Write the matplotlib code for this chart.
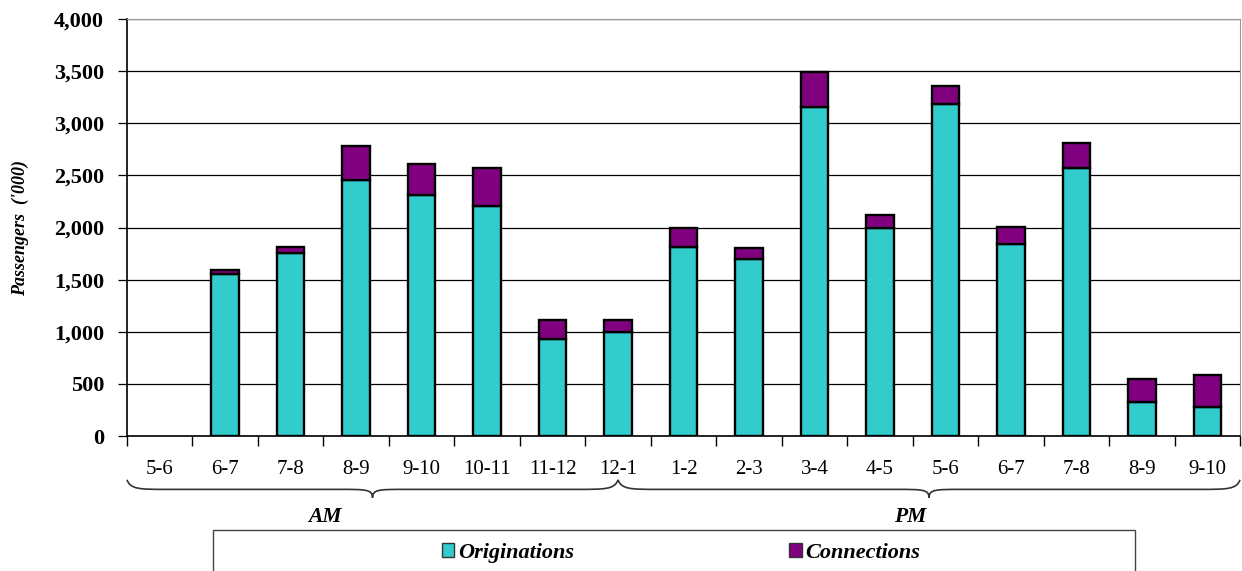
import matplotlib.pyplot as plt
from matplotlib.patches import Patch, Rectangle, PathPatch
from matplotlib.path import Path
from matplotlib.ticker import StrMethodFormatter, MultipleLocator

# hourly passengers ('000)
hours = ['5-6', '6-7', '7-8', '8-9', '9-10', '10-11', '11-12', '12-1',
         '1-2', '2-3', '3-4', '4-5', '5-6', '6-7', '7-8', '8-9', '9-10']
originations = [0, 1550, 1760, 2455, 2315, 2205, 928, 1000,
                1810, 1695, 3160, 1998, 3182, 1845, 2575, 330, 282]
totals = [0, 1588, 1815, 2782, 2605, 2568, 1115, 1115,
          1998, 1800, 3494, 2117, 3357, 2008, 2813, 547, 585]
connections = [t - o for t, o in zip(totals, originations)]

am_span = (-0.5, 7.0)
pm_span = (7.0, 16.5)

teal = '#33CCCC'
purple = '#800080'
serif = 'Liberation Serif'


def draw_brace(ax, x0, x1, y_top, y_mid, y_tip):
    xc = (x0 + x1) / 2
    re = 0.6   # sweep at the ends
    rt = 0.5   # sweep into the tip
    verts = [(x0, y_top),
             (x0 + 0.05, y_mid), (x0 + 0.2, y_mid), (x0 + re, y_mid),
             (xc - rt, y_mid),
             (xc - 0.1, y_mid), (xc, y_mid), (xc, y_tip),
             (xc, y_mid), (xc + 0.1, y_mid), (xc + rt, y_mid),
             (x1 - re, y_mid),
             (x1 - 0.2, y_mid), (x1 - 0.05, y_mid), (x1, y_top)]
    codes = [Path.MOVETO,
             Path.CURVE4, Path.CURVE4, Path.CURVE4,
             Path.LINETO,
             Path.CURVE4, Path.CURVE4, Path.CURVE4,
             Path.CURVE4, Path.CURVE4, Path.CURVE4,
             Path.LINETO,
             Path.CURVE4, Path.CURVE4, Path.CURVE4]
    patch = PathPatch(Path(verts, codes), facecolor='none', edgecolor='#333333',
                      lw=1.2, transform=ax.get_xaxis_transform(), clip_on=False)
    ax.add_patch(patch)


fig = plt.figure(figsize=(12.42, 5.71), dpi=100)
ax = fig.add_axes([127 / 1242, 135 / 571, 1113 / 1242, 417 / 571])

x = range(len(hours))
edge_w = [1.7 if t > 0 else 0 for t in totals]
ax.bar(x, originations, width=0.42, color=teal, edgecolor='black', lw=edge_w, zorder=3)
ax.bar(x, connections, width=0.42, bottom=originations, color=purple,
       edgecolor='black', lw=edge_w, zorder=3)

ax.set_xlim(-0.5, len(hours) - 0.5)
ax.set_ylim(0, 4000)
ax.yaxis.set_major_locator(MultipleLocator(500))
ax.yaxis.set_major_formatter(StrMethodFormatter('{x:,.0f}'))
ax.grid(axis='y', color='black', lw=0.9, zorder=0)

ax.set_xticks(list(x))
ax.set_xticklabels(hours, fontfamily=serif, fontsize=15)
ax.set_xticks([i + 0.5 for i in range(-1, len(hours))], minor=True)
ax.tick_params(axis='x', which='major', length=0, pad=17)
ax.tick_params(axis='x', which='minor', length=7, width=1, direction='out')
ax.tick_params(axis='y', length=6.5, width=0.9, pad=10)
for lab in ax.get_yticklabels():
    lab.set_fontfamily(serif)
    lab.set_fontweight('bold')
    lab.set_fontsize(16)

for side in ['top', 'right']:
    ax.spines[side].set_color('#999999')
ax.spines['left'].set_linewidth(1.2)
ax.spines['bottom'].set_linewidth(1.2)

ax.set_ylabel("Passengers  ('000)", fontfamily=serif, fontstyle='italic',
              fontweight='bold', fontsize=13)
ax.yaxis.set_label_coords(-0.088, 0.5)

# AM / PM braces under the hour labels
draw_brace(ax, am_span[0], am_span[1], -0.105, -0.128, -0.148)
draw_brace(ax, pm_span[0], pm_span[1], -0.105, -0.128, -0.148)
ax.text(2.52, -0.195, 'AM', transform=ax.get_xaxis_transform(), ha='center', va='center',
        fontfamily=serif, fontstyle='italic', fontweight='bold', fontsize=15.5)
ax.text(11.46, -0.195, 'PM', transform=ax.get_xaxis_transform(), ha='center', va='center',
        fontfamily=serif, fontstyle='italic', fontweight='bold', fontsize=15.5)

# legend frame runs off the bottom of the picture
fig.patches.append(Rectangle((213 / 1242, -0.05), (1135 - 213) / 1242, 0.05 + 41 / 571,
                             transform=fig.transFigure, facecolor='white',
                             edgecolor='#444444', lw=1.0))
handles = [Patch(facecolor=teal, edgecolor='#333333', label='Originations'),
           Patch(facecolor=purple, edgecolor='#333333', label='Connections')]
fig.legend(handles=handles, loc='center', bbox_to_anchor=(681 / 1242, 1 - 553 / 571),
           ncol=2, frameon=False, handlelength=0.55, handleheight=0.55, handletextpad=0.15,
           columnspacing=9.7,
           prop={'family': serif, 'style': 'italic', 'weight': 'bold', 'size': 16})

fig.savefig('out.png', dpi=100)
